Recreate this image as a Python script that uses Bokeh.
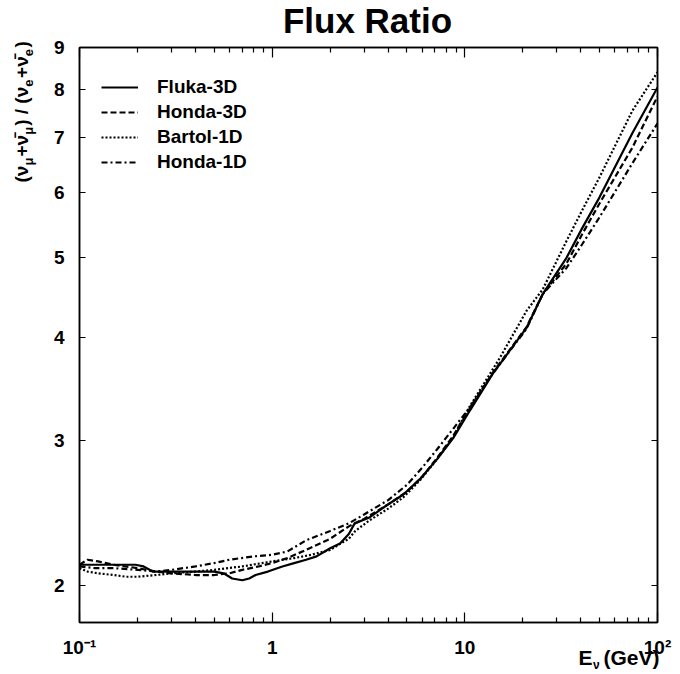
import math
from bokeh.plotting import figure
from bokeh.layouts import column
from bokeh.models import (Range1d, FixedTicker, LogAxis, Label, Legend, LegendItem,
                          CustomJSTickFormatter)
from bokeh.embed import file_html
from bokeh.resources import INLINE

# ---------------- data ----------------
energy_fluka = [0.1, 0.12, 0.15, 0.195, 0.215, 0.24, 0.3, 0.4, 0.5, 0.56, 0.62, 0.7,
                0.76, 0.82, 0.95, 1.13, 1.3, 1.5, 1.7, 2.0, 2.25, 2.5, 2.68, 3.2, 3.9,
                4.8, 5.9, 7.2, 8.7, 10.6, 14.0, 20.9, 25.4, 33.7, 40.8, 50.0, 74.0, 100.0]
ratio_fluka = [2.12, 2.12, 2.12, 2.12, 2.11, 2.08, 2.08, 2.08, 2.08, 2.07, 2.04, 2.03,
               2.04, 2.06, 2.08, 2.11, 2.13, 2.15, 2.17, 2.22, 2.25, 2.31, 2.38, 2.42, 2.50,
               2.58, 2.70, 2.85, 3.02, 3.26, 3.62, 4.11, 4.52, 5.00, 5.44, 5.92, 7.08, 8.05]

energy_honda3d = [0.1, 0.11, 0.125, 0.15, 0.2, 0.25, 0.3, 0.4, 0.5, 0.6, 0.7, 0.85,
                  1.0, 1.2, 1.5, 2.0, 2.5, 3.0, 4.0, 5.0, 6.0, 7.2, 8.7, 10.6, 14.0,
                  20.9, 25.4, 33.7, 40.8, 50.0, 74.0, 100.0]
ratio_honda3d = [2.12, 2.15, 2.14, 2.12, 2.10, 2.08, 2.07, 2.06, 2.06, 2.07, 2.09, 2.11,
                 2.13, 2.16, 2.21, 2.28, 2.36, 2.41, 2.51, 2.60, 2.71, 2.86, 3.04, 3.28, 3.63,
                 4.12, 4.52, 4.92, 5.35, 5.82, 6.80, 7.85]

energy_bartol = [0.1, 0.11, 0.125, 0.15, 0.175, 0.2, 0.25, 0.3, 0.4, 0.5, 0.7, 1.0,
                 1.3, 1.6, 2.0, 2.5, 2.7, 3.2, 4.0, 4.8, 5.9, 7.2, 8.7, 10.6, 15.2,
                 20.9, 25.4, 33.7, 40.8, 50.0, 74.0, 100.0]
ratio_bartol = [2.10, 2.08, 2.07, 2.06, 2.05, 2.05, 2.06, 2.07, 2.08, 2.09, 2.11, 2.14,
                2.16, 2.18, 2.21, 2.28, 2.33, 2.40, 2.48, 2.56, 2.69, 2.85, 3.03, 3.30, 3.78,
                4.31, 4.58, 5.24, 5.72, 6.26, 7.54, 8.40]

energy_honda1d = [0.1, 0.12, 0.15, 0.2, 0.25, 0.3, 0.4, 0.5, 0.6, 0.8, 1.0, 1.2, 1.5,
                  2.0, 2.5, 3.0, 4.0, 5.0, 6.0, 7.2, 8.7, 10.6, 14.0, 20.9, 25.4, 33.7,
                  40.8, 50.0, 74.0, 100.0]
ratio_honda1d = [2.11, 2.10, 2.10, 2.09, 2.08, 2.09, 2.11, 2.13, 2.15, 2.17, 2.18, 2.20, 2.27,
                 2.33, 2.38, 2.44, 2.54, 2.65, 2.78, 2.93, 3.10, 3.29, 3.62, 4.10, 4.52, 4.86,
                 5.20, 5.60, 6.51, 7.28]

series_names = ["Fluka-3D", "Honda-3D", "Bartol-1D", "Honda-1D"]

x_major_ticks = [0.1, 1, 10, 100]
x_minor_ticks = [0.2, 0.3, 0.4, 0.5, 0.6, 0.7, 0.8, 0.9,
                 2, 3, 4, 5, 6, 7, 8, 9,
                 20, 30, 40, 50, 60, 70, 80, 90]
x_tick_labels = {0.1: "10\u207b\u00b9", 1: "1", 10: "10", 100: "10\u00b2"}
y_major_ticks = [2, 3, 4, 5, 6, 7, 8, 9]

title_text = "Flux Ratio"

# ---------------- main figure ----------------
FONT = "Liberation Sans"
W, H = 680, 674

p = figure(width=W, height=H, x_axis_type="log", y_axis_type="log",
           x_range=Range1d(0.1, 100), y_range=Range1d(1.804, 9.0),
           output_backend="svg", toolbar_location=None,
           min_border_left=79, min_border_right=23, min_border_top=47, min_border_bottom=52)
p.xgrid.visible = False
p.ygrid.visible = False
p.outline_line_color = "black"
p.outline_line_width = 1.5
p.background_fill_color = "white"
p.border_fill_color = "white"
p.frame_align = False


def style_axis(ax, ticker, major_len, minor_len, show_labels):
    ax.ticker = ticker
    ax.major_tick_in = major_len
    ax.major_tick_out = 0
    ax.minor_tick_in = minor_len
    ax.minor_tick_out = 0
    ax.major_tick_line_color = "black"
    ax.minor_tick_line_color = "black"
    ax.major_tick_line_width = 1.2
    ax.minor_tick_line_width = 1.2
    ax.axis_line_color = "black"
    ax.axis_line_width = 1.5
    ax.major_label_text_font = FONT
    ax.major_label_text_font_style = "bold"
    ax.major_label_text_color = "black"
    ax.major_label_text_font_size = "19px"
    if not show_labels:
        ax.formatter = CustomJSTickFormatter(code="return '';")
        ax.major_label_standoff = 0


xa = p.xaxis[0]
style_axis(xa, FixedTicker(ticks=x_major_ticks, minor_ticks=x_minor_ticks), 10, 5, True)
xa.major_label_overrides = x_tick_labels
xa.major_label_standoff = 14

ya = p.yaxis[0]
style_axis(ya, FixedTicker(ticks=y_major_ticks, minor_ticks=[]), 6, 0, True)
ya.major_label_standoff = 15

top_axis = LogAxis()
style_axis(top_axis, FixedTicker(ticks=x_major_ticks, minor_ticks=x_minor_ticks), 10, 5, False)
p.add_layout(top_axis, "above")

right_axis = LogAxis()
style_axis(right_axis, FixedTicker(ticks=y_major_ticks, minor_ticks=[]), 6, 0, False)
p.add_layout(right_axis, "right")

# ---------------- curves ----------------
r_fluka = p.line(energy_fluka, ratio_fluka, line_color="black", line_width=2.2, line_dash="solid")
r_h3d = p.line(energy_honda3d, ratio_honda3d, line_color="black", line_width=2.2, line_dash="6 3")
r_bar = p.line(energy_bartol, ratio_bartol, line_color="black", line_width=2.2, line_dash="2 2")
r_h1d = p.line(energy_honda1d, ratio_honda1d, line_color="black", line_width=2.2, line_dash="6 3 2 3")

legend = Legend(items=[LegendItem(label=series_names[0], renderers=[r_fluka]),
                       LegendItem(label=series_names[1], renderers=[r_h3d]),
                       LegendItem(label=series_names[2], renderers=[r_bar]),
                       LegendItem(label=series_names[3], renderers=[r_h1d])],
                location=(21, 448), padding=1, margin=0, spacing=3,
                glyph_width=37, glyph_height=20, label_height=20, label_standoff=19,
                label_text_font=FONT, label_text_font_style="bold",
                label_text_font_size="19px", label_text_color="black",
                border_line_alpha=0, background_fill_alpha=0)
p.add_layout(legend)

# ---------------- transparent overlay for the texts outside the frame ----------------
q = figure(width=W, height=H, x_range=Range1d(0, W), y_range=Range1d(H, 0),
           x_axis_location=None, y_axis_location=None, min_border=0,
           output_backend="svg", toolbar_location=None)
q.xgrid.visible = False
q.ygrid.visible = False
q.outline_line_color = None
q.background_fill_alpha = 0
q.border_fill_alpha = 0
q.frame_align = False
q.styles = {"margin-top": f"-{H}px"}

BASE_SHIFT = 0.36  # the rendered baseline sits this many em below the anchor


def add_text(text, x, y, size, angle=0.0, align="left"):
    # x, y: wanted baseline position (page pixels)
    if angle == 0.0:
        y = y - BASE_SHIFT * size
    else:
        x = x - BASE_SHIFT * size
    q.add_layout(Label(x=x, y=y, text=text, angle=angle, text_font=FONT,
                       text_font_style="bold", text_font_size=f"{size}px",
                       text_align=align, text_baseline="alphabetic", text_color="black"))


# title
add_text(title_text, 367, 33, 35, align="center")

# y-axis label, built from pieces (rotated, reading bottom to top)
MAIN, SUB = 19, 13
EM = {"(": 0.333, ")": 0.333, "\u03bd": 0.56, "\u03bd\u0304": 0.56, "+": 0.584,
      "/": 0.278, " ": 0.278, "\u03bc": 0.576, "e": 0.556}
ylabel_parts = [("(", False), ("\u03bd", False), ("\u03bc", True), ("+", False),
                ("\u03bd\u0304", False), ("\u03bc", True), (")", False), (" ", False),
                ("/", False), (" ", False),
                ("(", False), ("\u03bd", False), ("e", True), ("+", False),
                ("\u03bd\u0304", False), ("e", True), (")", False)]
pos = 182.0
base_x = 28.0
for txt, sub in ylabel_parts:
    size = SUB if sub else MAIN
    if txt != " ":
        add_text(txt, base_x + (5 if sub else 0), pos, size, angle=math.pi / 2)
    pos -= EM[txt] * size + (1.5 if sub else 0)

# x-axis label
add_text("E", 578, 665, 21)
add_text("\u03bd", 592.5, 669, 12)
add_text("(GeV)", 603, 665, 21)

open("out.html", "w").write(file_html(column(p, q), INLINE))
